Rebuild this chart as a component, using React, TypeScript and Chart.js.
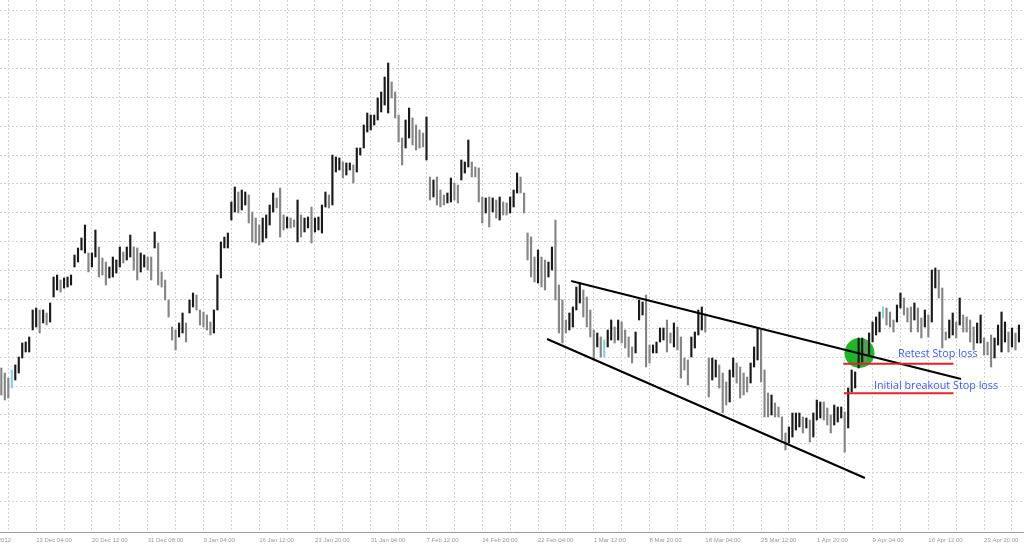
import React, { useEffect, useRef } from "react";
import { Chart, registerables } from "chart.js";

Chart.register(...registerables);

// EURUSD H4 bars (high / low), one entry per bar
const HIGH = [
  1.3104, 1.3094, 1.3084, 1.3100, 1.3110, 1.3126, 1.3154, 1.3156, 1.3166, 1.3220,
  1.3224, 1.3220, 1.3220, 1.3214, 1.3234, 1.3286, 1.3290, 1.3280, 1.3284, 1.3286,
  1.3290, 1.3330, 1.3344, 1.3364, 1.3390, 1.3334, 1.3334, 1.3380, 1.3346, 1.3324,
  1.3316, 1.3306, 1.3326, 1.3320, 1.3346, 1.3336, 1.3346, 1.3370, 1.3346, 1.3344,
  1.3334, 1.3330, 1.3326, 1.3326, 1.3376, 1.3354, 1.3296, 1.3280, 1.3240, 1.3186,
  1.3180, 1.3194, 1.3214, 1.3194, 1.3240, 1.3254, 1.3250, 1.3220, 1.3216, 1.3210,
  1.3196, 1.3220, 1.3290, 1.3356, 1.3366, 1.3374, 1.3436, 1.3466, 1.3456, 1.3460,
  1.3456, 1.3450, 1.3416, 1.3404, 1.3390, 1.3404, 1.3410, 1.3430, 1.3454, 1.3444,
  1.3464, 1.3410, 1.3406, 1.3404, 1.3400, 1.3440, 1.3410, 1.3404, 1.3406, 1.3426,
  1.3404, 1.3406, 1.3430, 1.3456, 1.3450, 1.3530, 1.3526, 1.3524, 1.3516, 1.3514,
  1.3514, 1.3510, 1.3544, 1.3544, 1.3590, 1.3614, 1.3610, 1.3610, 1.3644, 1.3656,
  1.3686, 1.3714, 1.3676, 1.3656, 1.3610, 1.3564, 1.3600, 1.3624, 1.3604, 1.3590,
  1.3580, 1.3574, 1.3606, 1.3486, 1.3480, 1.3486, 1.3460, 1.3450, 1.3454, 1.3484,
  1.3474, 1.3470, 1.3520, 1.3516, 1.3560, 1.3516, 1.3506, 1.3504, 1.3446, 1.3444,
  1.3446, 1.3444, 1.3440, 1.3446, 1.3436, 1.3434, 1.3446, 1.3460, 1.3494, 1.3486,
  1.3454, 1.3374, 1.3366, 1.3326, 1.3340, 1.3326, 1.3320, 1.3316, 1.3346, 1.3400,
  1.3270, 1.3240, 1.3200, 1.3214, 1.3226, 1.3266, 1.3274, 1.3260, 1.3246, 1.3220,
  1.3180, 1.3174, 1.3166, 1.3160, 1.3180, 1.3200, 1.3186, 1.3200, 1.3196, 1.3180,
  1.3166, 1.3146, 1.3176, 1.3240, 1.3236, 1.3250, 1.3150, 1.3150, 1.3156, 1.3184,
  1.3184, 1.3200, 1.3174, 1.3194, 1.3186, 1.3166, 1.3124, 1.3120, 1.3166, 1.3176,
  1.3220, 1.3226, 1.3210, 1.3124, 1.3124, 1.3120, 1.3110, 1.3094, 1.3076, 1.3100,
  1.3124, 1.3114, 1.3106, 1.3094, 1.3086, 1.3114, 1.3146, 1.3184, 1.3180, 1.3100,
  1.3054, 1.3050, 1.3034, 1.3026, 1.3006, 1.2974, 1.2986, 1.3014, 1.3014, 1.3014,
  1.3006, 1.3004, 1.3000, 1.3014, 1.3040, 1.3036, 1.3036, 1.3024, 1.3010, 1.3030,
  1.3026, 1.3026, 1.3016, 1.3064, 1.3100, 1.3096, 1.3164, 1.3164, 1.3160, 1.3174,
  1.3196, 1.3206, 1.3216, 1.3226, 1.3224, 1.3216, 1.3200, 1.3230, 1.3254, 1.3244,
  1.3224, 1.3226, 1.3234, 1.3224, 1.3204, 1.3220, 1.3210, 1.3300, 1.3304, 1.3300,
  1.3264, 1.3176, 1.3200, 1.3214, 1.3196, 1.3244, 1.3210, 1.3206, 1.3200, 1.3186,
  1.3194, 1.3210, 1.3164, 1.3156, 1.3170, 1.3164, 1.3190, 1.3216, 1.3196, 1.3176,
  1.3184, 1.3174, 1.3190,
];

const LOW = [
  1.3050, 1.3040, 1.3044, 1.3064, 1.3080, 1.3094, 1.3124, 1.3136, 1.3136, 1.3180,
  1.3186, 1.3174, 1.3194, 1.3190, 1.3196, 1.3246, 1.3260, 1.3256, 1.3264, 1.3266,
  1.3270, 1.3306, 1.3316, 1.3340, 1.3334, 1.3296, 1.3306, 1.3326, 1.3286, 1.3290,
  1.3270, 1.3284, 1.3286, 1.3294, 1.3306, 1.3314, 1.3320, 1.3326, 1.3300, 1.3280,
  1.3296, 1.3306, 1.3300, 1.3280, 1.3344, 1.3270, 1.3266, 1.3240, 1.3206, 1.3160,
  1.3140, 1.3166, 1.3174, 1.3156, 1.3214, 1.3226, 1.3220, 1.3190, 1.3186, 1.3180,
  1.3170, 1.3174, 1.3220, 1.3284, 1.3344, 1.3344, 1.3400, 1.3416, 1.3414, 1.3420,
  1.3430, 1.3394, 1.3356, 1.3354, 1.3350, 1.3356, 1.3364, 1.3390, 1.3416, 1.3424,
  1.3366, 1.3380, 1.3384, 1.3384, 1.3386, 1.3356, 1.3366, 1.3376, 1.3384, 1.3354,
  1.3376, 1.3380, 1.3374, 1.3426, 1.3424, 1.3430, 1.3496, 1.3500, 1.3484, 1.3490,
  1.3500, 1.3474, 1.3496, 1.3530, 1.3544, 1.3576, 1.3580, 1.3590, 1.3600, 1.3616,
  1.3630, 1.3614, 1.3644, 1.3604, 1.3556, 1.3510, 1.3544, 1.3564, 1.3550, 1.3540,
  1.3544, 1.3546, 1.3520, 1.3440, 1.3446, 1.3430, 1.3426, 1.3430, 1.3434, 1.3436,
  1.3440, 1.3434, 1.3480, 1.3494, 1.3506, 1.3486, 1.3486, 1.3436, 1.3394, 1.3414,
  1.3386, 1.3416, 1.3404, 1.3400, 1.3410, 1.3410, 1.3414, 1.3426, 1.3454, 1.3454,
  1.3414, 1.3320, 1.3286, 1.3276, 1.3274, 1.3266, 1.3260, 1.3286, 1.3300, 1.3240,
  1.3174, 1.3154, 1.3174, 1.3180, 1.3186, 1.3220, 1.3234, 1.3206, 1.3186, 1.3166,
  1.3120, 1.3146, 1.3126, 1.3126, 1.3146, 1.3160, 1.3154, 1.3160, 1.3154, 1.3144,
  1.3126, 1.3114, 1.3134, 1.3200, 1.3210, 1.3106, 1.3114, 1.3134, 1.3134, 1.3156,
  1.3160, 1.3136, 1.3154, 1.3146, 1.3140, 1.3084, 1.3100, 1.3070, 1.3126, 1.3144,
  1.3170, 1.3180, 1.3176, 1.3046, 1.3080, 1.3086, 1.3064, 1.3014, 1.3030, 1.3036,
  1.3086, 1.3074, 1.3044, 1.3050, 1.3056, 1.3074, 1.3106, 1.3120, 1.3076, 1.3006,
  1.3006, 1.3010, 1.3006, 1.3006, 1.2960, 1.2940, 1.2954, 1.2966, 1.2980, 1.2986,
  1.2974, 1.2984, 1.2956, 1.2966, 1.3000, 1.3004, 1.3000, 1.2990, 1.2974, 1.2990,
  1.2996, 1.3004, 1.2936, 1.2984, 1.3056, 1.3064, 1.3104, 1.3116, 1.3116, 1.3130,
  1.3156, 1.3170, 1.3176, 1.3204, 1.3190, 1.3186, 1.3176, 1.3196, 1.3224, 1.3210,
  1.3196, 1.3176, 1.3200, 1.3176, 1.3164, 1.3186, 1.3166, 1.3196, 1.3264, 1.3244,
  1.3144, 1.3160, 1.3164, 1.3170, 1.3164, 1.3190, 1.3176, 1.3176, 1.3156, 1.3140,
  1.3154, 1.3154, 1.3130, 1.3130, 1.3106, 1.3124, 1.3150, 1.3136, 1.3156, 1.3136,
  1.3146, 1.3140, 1.3156,
];

const DOJI_BARS = [3, 173, 253];

const DATE_LABELS = [
  "6 Dec 2012", "13 Dec 04:00", "20 Dec 12:00", "31 Dec 08:00", "9 Jan 04:00",
  "16 Jan 12:00", "23 Jan 20:00", "31 Jan 04:00", "7 Feb 12:00", "14 Feb 20:00",
  "22 Feb 04:00", "1 Mar 12:00", "8 Mar 20:00", "18 Mar 04:00", "25 Mar 12:00",
  "1 Apr 20:00", "9 Apr 04:00", "16 Apr 12:00", "23 Apr 20:00",
];
const DATE_LABEL_START = -6;
const DATE_LABEL_STEP = 16;
const GRID_X_STEP = 8;
const GRID_X_LAST = 290;

const GRID_Y_TOP = 1.38186;
const GRID_Y_STEP = 0.005774;
const GRID_Y_COUNT = 18;

const X_MIN = -0.38;
const X_MAX = 293.45;
const Y_MIN = 1.2776;
const Y_MAX = 1.384;

// annotations (bar index / price)
const UPPER_TREND = [{ x: 163.5, y: 1.3278 }, { x: 275.4, y: 1.3082 }];
const LOWER_TREND = [{ x: 156.6, y: 1.3162 }, { x: 247.8, y: 1.2884 }];
const RETEST_SL = [{ x: 241.6, y: 1.31126 }, { x: 273.2, y: 1.31126 }];
const INITIAL_SL = [{ x: 241.8, y: 1.30536 }, { x: 273.2, y: 1.30536 }];
const RETEST_POINT = [{ x: 246.25, y: 1.3134, r: 15 }];
const NOTES = [
  { text: "Retest Stop loss", x: 257.3, y: 1.3126 },
  { text: "Initial breakout Stop loss", x: 250.4, y: 1.3063 },
];

const BAR_UP = "#1a1a1a";
const BAR_DOWN = "#858585";
const BAR_DOJI = "#86cfe0";
const NOTE_COLOR = "#3a5ce8";

const notesPlugin = {
  id: "notes",
  afterDatasetsDraw(chart: any) {
    const { ctx, scales } = chart;
    ctx.save();
    ctx.font = '10.8px "Open Sans"';
    ctx.fillStyle = NOTE_COLOR;
    ctx.textAlign = "left";
    ctx.textBaseline = "alphabetic";
    NOTES.forEach((n) => {
      ctx.fillText(n.text, scales.x.getPixelForValue(n.x), scales.y.getPixelForValue(n.y));
    });
    ctx.restore();
  },
};

export default function App() {
  const ref = useRef<HTMLCanvasElement | null>(null);

  useEffect(() => {
    if (!ref.current) return;
    const bars = HIGH.map((h, i) => ({ x: i, y: [LOW[i], h] }));
    const colors = HIGH.map((h, i) => {
      if (DOJI_BARS.includes(i)) return BAR_DOJI;
      if (i === 0) return BAR_DOWN;
      const mid = (h + LOW[i]) / 2;
      const prev = (HIGH[i - 1] + LOW[i - 1]) / 2;
      return mid >= prev ? BAR_UP : BAR_DOWN;
    });

    const chart = new Chart(ref.current, {
      type: "bar",
      data: {
        datasets: [
          {
            type: "bubble",
            data: RETEST_POINT,
            backgroundColor: "#22b52a",
            borderWidth: 0,
            order: 3,
          } as any,
          {
            type: "bar",
            data: bars as any,
            backgroundColor: colors,
            borderWidth: 0,
            barThickness: 1.5,
            order: 2,
          },
          {
            type: "line",
            data: UPPER_TREND,
            borderColor: "#000",
            borderWidth: 2,
            pointRadius: 0,
            order: 1,
          } as any,
          {
            type: "line",
            data: LOWER_TREND,
            borderColor: "#000",
            borderWidth: 2,
            pointRadius: 0,
            order: 1,
          } as any,
          {
            type: "line",
            data: RETEST_SL,
            borderColor: "#e0232d",
            borderWidth: 2,
            pointRadius: 0,
            order: 0,
          } as any,
          {
            type: "line",
            data: INITIAL_SL,
            borderColor: "#e0232d",
            borderWidth: 2,
            pointRadius: 0,
            order: 0,
          } as any,
        ],
      },
      options: {
        animation: false,
        responsive: true,
        maintainAspectRatio: false,
        layout: { padding: 0, autoPadding: false },
        plugins: { legend: { display: false }, tooltip: { enabled: false } },
        scales: {
          x: {
            type: "linear",
            min: X_MIN,
            max: X_MAX,
            offset: false,
            grid: { offset: false, color: "#d4d4d4", lineWidth: 1, drawTicks: false },
            border: { display: true, color: "#9a9a9a", width: 1, dash: [2, 2] },
            afterBuildTicks: (axis: any) => {
              const t: any[] = [];
              for (let v = DATE_LABEL_START; v <= GRID_X_LAST; v += GRID_X_STEP) t.push({ value: v });
              axis.ticks = t;
            },
            afterFit: (axis: any) => {
              axis.height = 14;
              axis.paddingLeft = 0;
              axis.paddingRight = 0;
            },
            ticks: {
              autoSkip: false,
              maxRotation: 0,
              minRotation: 0,
              align: "start",
              padding: 5,
              color: "#9a9a9a",
              font: { family: '"Liberation Sans", Arial, sans-serif', size: 6 },
              callback: (value: any) => {
                const k = (Number(value) - DATE_LABEL_START) / DATE_LABEL_STEP;
                return Number.isInteger(k) && DATE_LABELS[k] ? DATE_LABELS[k] : "";
              },
            },
          },
          y: {
            type: "linear",
            min: Y_MIN,
            max: Y_MAX,
            beginAtZero: false,
            grid: { color: "#d4d4d4", lineWidth: 1, drawTicks: false },
            border: { display: false, dash: [2, 2] },
            ticks: { display: false },
            afterBuildTicks: (axis: any) => {
              const t: any[] = [];
              for (let k = GRID_Y_COUNT - 1; k >= 0; k--) t.push({ value: GRID_Y_TOP - k * GRID_Y_STEP });
              axis.ticks = t;
            },
            afterFit: (axis: any) => {
              axis.width = 0;
              axis.paddingTop = 0;
              axis.paddingBottom = 0;
            },
          },
        },
      },
      plugins: [notesPlugin],
    });
    return () => chart.destroy();
  }, []);

  return (
    <div style={{ position: "fixed", left: 0, top: 0, width: 1024, height: 546, background: "#fff" }}>
      <canvas ref={ref} />
    </div>
  );
}
